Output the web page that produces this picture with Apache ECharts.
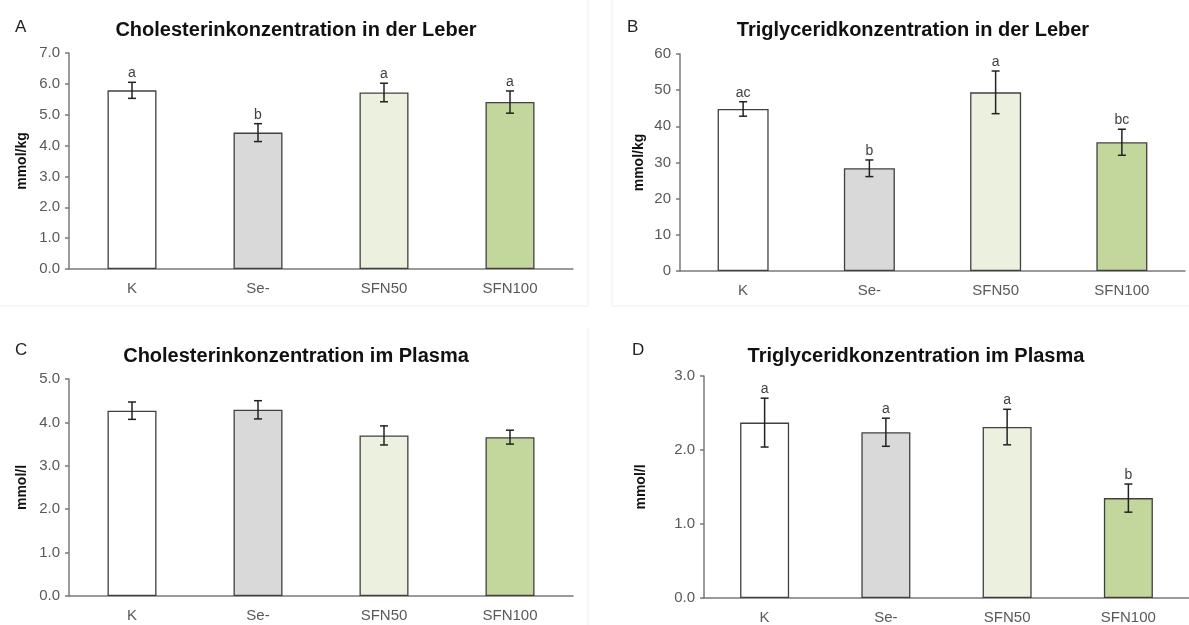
<!DOCTYPE html>
<html>
<head>
<meta charset="utf-8">
<script src="https://cdn.jsdelivr.net/npm/echarts@6/dist/echarts.min.js"></script>
<style>
html,body{margin:0;padding:0;background:#fff;}
#chart{width:1189px;height:625px;}
</style>
</head>
<body>
<div id="chart"></div>
<script>
// ---- data ----
var categories = ['K', 'Se-', 'SFN50', 'SFN100'];
var barColors = ['#ffffff', '#d9d9d9', '#ebf1de', '#c3d69b'];

var liverCholTitle = 'Cholesterinkonzentration in der Leber';
var liverCholValues = [5.79, 4.42, 5.72, 5.41];
var liverCholErr = [0.26, 0.29, 0.30, 0.36];
var liverCholSig = ['a', 'b', 'a', 'a'];
var liverCholTicks = [0, 7, 1]; // min, max, interval

var liverTGTitle = 'Triglyceridkonzentration in der Leber';
var liverTGValues = [44.8, 28.4, 49.4, 35.6];
var liverTGErr = [2.0, 2.3, 5.9, 3.6];
var liverTGSig = ['ac', 'b', 'a', 'bc'];
var liverTGTicks = [0, 60, 10];

var plasmaCholTitle = 'Cholesterinkonzentration im Plasma';
var plasmaCholValues = [4.27, 4.29, 3.70, 3.66];
var plasmaCholErr = [0.20, 0.21, 0.22, 0.16];
var plasmaCholSig = ['', '', '', ''];
var plasmaCholTicks = [0, 5, 1];

var plasmaTGTitle = 'Triglyceridkonzentration im Plasma';
var plasmaTGValues = [2.37, 2.24, 2.31, 1.35];
var plasmaTGErr = [0.33, 0.19, 0.24, 0.19];
var plasmaTGSig = ['a', 'a', 'a', 'b'];
var plasmaTGTicks = [0, 3, 1];

var panels = [
  {letter: 'A', title: liverCholTitle, values: liverCholValues, err: liverCholErr, sig: liverCholSig, ticks: liverCholTicks, unit: 'mmol/kg', dec: 1,
   grid: {left: 69, top: 53, width: 504, height: 216}, titleX: 291, titleY: 15, letterX: 10, letterY: 14, nameGap: 40, barWidth: 49},
  {letter: 'B', title: liverTGTitle, values: liverTGValues, err: liverTGErr, sig: liverTGSig, ticks: liverTGTicks, unit: 'mmol/kg', dec: 0,
   grid: {left: 680, top: 54, width: 505, height: 217}, titleX: 908, titleY: 15, letterX: 622, letterY: 14, nameGap: 34, barWidth: 51},
  {letter: 'C', title: plasmaCholTitle, values: plasmaCholValues, err: plasmaCholErr, sig: plasmaCholSig, ticks: plasmaCholTicks, unit: 'mmol/l', dec: 1,
   grid: {left: 69, top: 379, width: 504, height: 217}, titleX: 291, titleY: 341, letterX: 10, letterY: 337, nameGap: 40, barWidth: 49},
  {letter: 'D', title: plasmaTGTitle, values: plasmaTGValues, err: plasmaTGErr, sig: plasmaTGSig, ticks: plasmaTGTicks, unit: 'mmol/l', dec: 1,
   grid: {left: 704, top: 376, width: 491, height: 222}, titleX: 911, titleY: 341, letterX: 627, letterY: 337, nameGap: 56, barWidth: 49}
];

var FONT = '"Liberation Sans", Arial, sans-serif';
var chart = echarts.init(document.getElementById('chart'), null, {renderer: 'canvas'});

var titles = [], grids = [], xAxes = [], yAxes = [], series = [];
panels.forEach(function (p, i) {
  titles.push({text: p.title, left: p.titleX, top: p.titleY, textAlign: 'center',
    textStyle: {fontFamily: FONT, fontSize: 20, fontWeight: 'bold', color: '#111'}});
  titles.push({text: p.letter, left: p.letterX, top: p.letterY,
    textStyle: {fontFamily: FONT, fontSize: 17, fontWeight: 'normal', color: '#222'}});
  grids.push(Object.assign({containLabel: false}, p.grid));
  xAxes.push({type: 'category', gridIndex: i, data: categories,
    axisLine: {lineStyle: {color: '#7a7a7a', width: 1.5}},
    axisTick: {show: false},
    axisLabel: {fontFamily: FONT, fontSize: 15, color: '#595959', margin: 12}});
  yAxes.push({type: 'value', gridIndex: i, min: p.ticks[0], max: p.ticks[1], interval: p.ticks[2],
    name: p.unit, nameLocation: 'middle', nameGap: p.nameGap, nameRotate: 90,
    nameTextStyle: {fontFamily: FONT, fontSize: 14, fontWeight: 'bold', color: '#111'},
    axisLine: {show: true, lineStyle: {color: '#7a7a7a', width: 1.5}},
    axisTick: {show: true, length: 4, inside: false, lineStyle: {color: '#7a7a7a', width: 1.5}},
    splitLine: {show: false},
    axisLabel: {fontFamily: FONT, fontSize: 15, color: '#595959', margin: 9,
      formatter: (function (d) { return function (v) { return v.toFixed(d); }; })(p.dec)}});
  series.push({type: 'bar', xAxisIndex: i, yAxisIndex: i, barWidth: p.barWidth, z: 2,
    data: p.values.map(function (v, k) {
      return {value: v, itemStyle: {color: barColors[k], borderColor: '#404040', borderWidth: 1.3}};
    })});
  series.push({type: 'custom', xAxisIndex: i, yAxisIndex: i, z: 5,
    data: p.values.map(function (v, k) { return [k, v, p.err[k]]; }),
    renderItem: function (params, api) {
      var k = api.value(0), v = api.value(1), e = api.value(2);
      var sig = p.sig[k];
      var top = api.coord([k, v + e]);
      var bot = api.coord([k, v - e]);
      var cap = 4;
      var st = {stroke: '#222', lineWidth: 1.5};
      var children = [
        {type: 'line', shape: {x1: top[0], y1: top[1], x2: bot[0], y2: bot[1]}, style: st},
        {type: 'line', shape: {x1: top[0] - cap, y1: top[1], x2: top[0] + cap, y2: top[1]}, style: st},
        {type: 'line', shape: {x1: bot[0] - cap, y1: bot[1], x2: bot[0] + cap, y2: bot[1]}, style: st}
      ];
      if (sig) {
        children.push({type: 'text', x: top[0], y: top[1] - 2,
          style: {text: sig, fontFamily: FONT, fontSize: 14, fill: '#404040', align: 'center', verticalAlign: 'bottom'}});
      }
      return {type: 'group', children: children};
    }});
});

var faint = '#f1f1f1';
chart.setOption({
  animation: false,
  backgroundColor: '#ffffff',
  title: titles,
  grid: grids,
  xAxis: xAxes,
  yAxis: yAxes,
  series: series,
  graphic: [
    {type: 'line', shape: {x1: 588, y1: 0, x2: 588, y2: 306}, style: {stroke: faint, lineWidth: 1}, silent: true},
    {type: 'line', shape: {x1: 0, y1: 306, x2: 588, y2: 306}, style: {stroke: faint, lineWidth: 1}, silent: true},
    {type: 'line', shape: {x1: 612, y1: 0, x2: 612, y2: 306}, style: {stroke: faint, lineWidth: 1}, silent: true},
    {type: 'line', shape: {x1: 612, y1: 306, x2: 1189, y2: 306}, style: {stroke: faint, lineWidth: 1}, silent: true},
    {type: 'line', shape: {x1: 588, y1: 328, x2: 588, y2: 625}, style: {stroke: faint, lineWidth: 1}, silent: true}
  ]
});
</script>
</body>
</html>
